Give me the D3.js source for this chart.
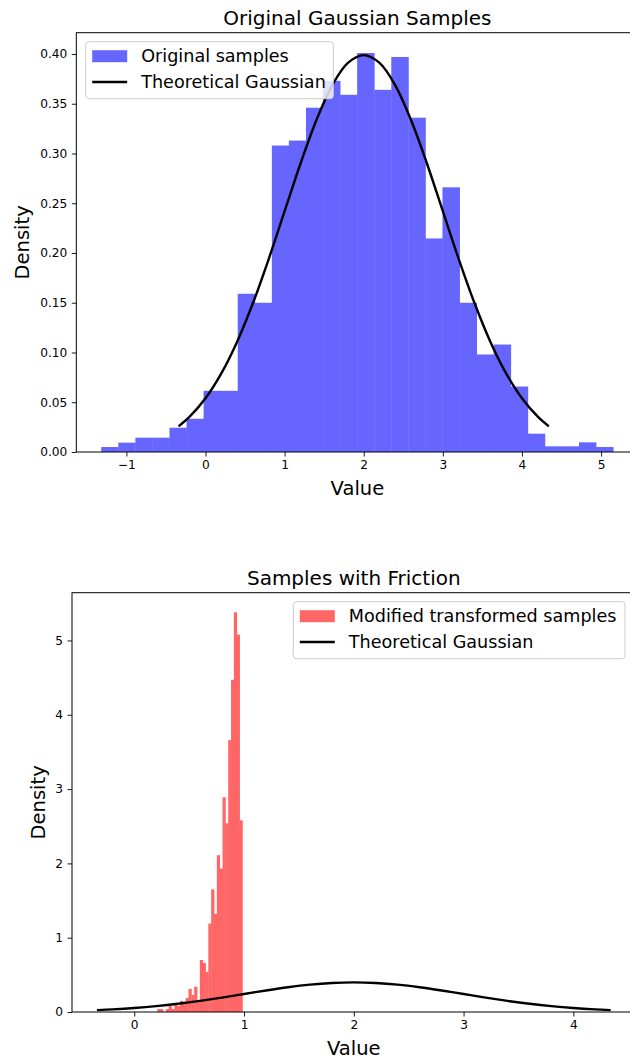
<!DOCTYPE html>
<html><head><meta charset="utf-8">
<script src="https://cdn.jsdelivr.net/npm/d3@7"></script>
<style>body{margin:0;background:#fff} svg{display:block;font-family:"DejaVu Sans",sans-serif}</style>
</head><body><svg id="c" width="630" height="1061"></svg>
<script>
// ---- data ----
const origRange = [-1.318, 5.152];
const origDensity = [0.005, 0.0094, 0.0144, 0.0144, 0.0244, 0.0334, 0.0615, 0.0615, 0.159, 0.150,
  0.308, 0.313, 0.346, 0.373, 0.359, 0.401, 0.364, 0.397, 0.336, 0.2146,
  0.266, 0.150, 0.098, 0.108, 0.0658, 0.0184, 0.0057, 0.0057, 0.0097, 0.005];
const modRange = [0.21, 0.985];
const modDensity = [0.04, 0.04, 0, 0.04, 0.08, 0.04, 0.12, 0.08, 0.15, 0.12,
  0.19, 0.31, 0.23, 0.34, 0.15, 0.70, 0.66, 0.54, 1.19, 1.65,
  1.32, 2.11, 1.93, 2.89, 2.54, 3.66, 4.47, 5.38, 5.08, 2.58];
const gaussX = [-0.34, -0.2, 0.0, 0.2, 0.4, 0.6, 0.8, 1.0, 1.2, 1.4, 1.6, 1.8, 2.0,
  2.2, 2.4, 2.6, 2.8, 3.0, 3.2, 3.4, 3.6, 3.8, 4.0, 4.2, 4.34];
const gaussY = [0.0258, 0.0355, 0.0540, 0.0790, 0.1109, 0.1497, 0.1942, 0.2420, 0.2897, 0.3332, 0.3683, 0.3910, 0.3989,
  0.3910, 0.3683, 0.3332, 0.2897, 0.2420, 0.1942, 0.1497, 0.1109, 0.0790, 0.0540, 0.0355, 0.0258];
const xTicksTop = [-1, 0, 1, 2, 3, 4, 5];
const yTicksTop = [0, 0.05, 0.10, 0.15, 0.20, 0.25, 0.30, 0.35, 0.40];
const xTicksBottom = [0, 1, 2, 3, 4];
const yTicksBottom = [0, 1, 2, 3, 4, 5];
const titles = ["Original Gaussian Samples", "Samples with Friction"];
const legendLabels = [["Original samples", "Theoretical Gaussian"], ["Modified transformed samples", "Theoretical Gaussian"]];

// ---- drawing ----
const svg = d3.select("#c");

function panel(o) {
  const x = d3.scaleLinear().domain(o.xDomain).range([o.left, o.right]);
  const y = d3.scaleLinear().domain(o.yDomain).range([o.bottom, o.top]);
  const g = svg.append("g");
  const n = o.density.length;
  const w = (o.range[1] - o.range[0]) / n;
  const bins = o.density.map((d, i) => ({x0: o.range[0] + i * w, x1: o.range[0] + (i + 1) * w, d}));
  g.selectAll("rect.bar").data(bins).join("rect").attr("class", "bar")
    .attr("x", b => x(b.x0)).attr("width", b => x(b.x1) - x(b.x0) + 0.4)
    .attr("y", b => y(b.d)).attr("height", b => y(0) - y(b.d))
    .attr("fill", o.color);
  const line = d3.line().x((d, i) => x(gaussX[i])).y(d => y(d)).curve(d3.curveCatmullRom);
  g.append("path").attr("d", line(gaussY)).attr("fill", "none").attr("stroke", "#000").attr("stroke-width", 2.4);

  // axes
  const ax = g.append("g").attr("transform", `translate(0,${o.bottom})`)
    .call(d3.axisBottom(x).tickValues(o.xTicks).tickSize(4.5).tickPadding(3.5).tickFormat(d3.format("d")));
  const ay = g.append("g").attr("transform", `translate(${o.left},0)`)
    .call(d3.axisLeft(y).tickValues(o.yTicks).tickSize(4.5).tickPadding(4.5).tickFormat(o.yFmt));
  [ax, ay].forEach(a => {
    a.select(".domain").remove();
    a.selectAll("text").attr("font-size", 12.2).attr("fill", "#000").attr("font-family", "DejaVu Sans");
    a.selectAll("line").attr("stroke", "#000").attr("stroke-width", 0.9);
  });
  // spines
  g.append("rect").attr("x", o.left).attr("y", o.top).attr("width", o.right - o.left).attr("height", o.bottom - o.top)
    .attr("fill", "none").attr("stroke", "#000").attr("stroke-width", 1);

  // title & labels
  g.append("text").attr("x", (o.left + o.right) / 2).attr("y", o.top - 8).attr("text-anchor", "middle")
    .attr("font-size", 20).text(o.title);
  g.append("text").attr("x", (o.left + o.right) / 2).attr("y", o.bottom + 43).attr("text-anchor", "middle")
    .attr("font-size", 19.5).text("Value");
  g.append("text").attr("transform", `translate(${o.ylabX},${(o.top + o.bottom) / 2}) rotate(-90)`)
    .attr("text-anchor", "middle").attr("font-size", 19.5).text("Density");

  // legend
  const L = o.legend;
  const lg = g.append("g").attr("transform", `translate(${L.x},${L.y})`);
  lg.append("rect").attr("width", L.w).attr("height", 57).attr("rx", 3)
    .attr("fill", "#fff").attr("fill-opacity", 0.8).attr("stroke", "#ccc").attr("stroke-width", 1);
  lg.append("rect").attr("x", 6.5).attr("y", 8.5).attr("width", 35).attr("height", 12).attr("fill", o.color);
  lg.append("line").attr("x1", 6.5).attr("x2", 41.5).attr("y1", 40.3).attr("y2", 40.3).attr("stroke", "#000").attr("stroke-width", 2.4);
  lg.selectAll("text.lab").data(o.labels).join("text").attr("class", "lab")
    .attr("x", 55.5).attr("y", (d, i) => 20.5 + i * 26).attr("font-size", 17.6).text(d => d);
}

panel({left: 76.3, right: 638.5, top: 32.7, bottom: 452, xDomain: [-1.633, 5.473], yDomain: [0, 0.4214],
  range: origRange, density: origDensity, color: "#6666ff", xTicks: xTicksTop, yTicks: yTicksTop,
  yFmt: d3.format(".2f"), title: titles[0], ylabX: 29, labels: legendLabels[0],
  legend: {x: 85.7, y: 41.7, w: 247.6}});
panel({left: 72, right: 635.6, top: 592.7, bottom: 1012, xDomain: [-0.567, 4.567], yDomain: [0, 5.643],
  range: modRange, density: modDensity, color: "#ff6666", xTicks: xTicksBottom, yTicks: yTicksBottom,
  yFmt: d3.format("d"), title: titles[1], ylabX: 45, labels: legendLabels[1],
  legend: {x: 293.3, y: 601.7, w: 331.7}});
</script></body></html>
